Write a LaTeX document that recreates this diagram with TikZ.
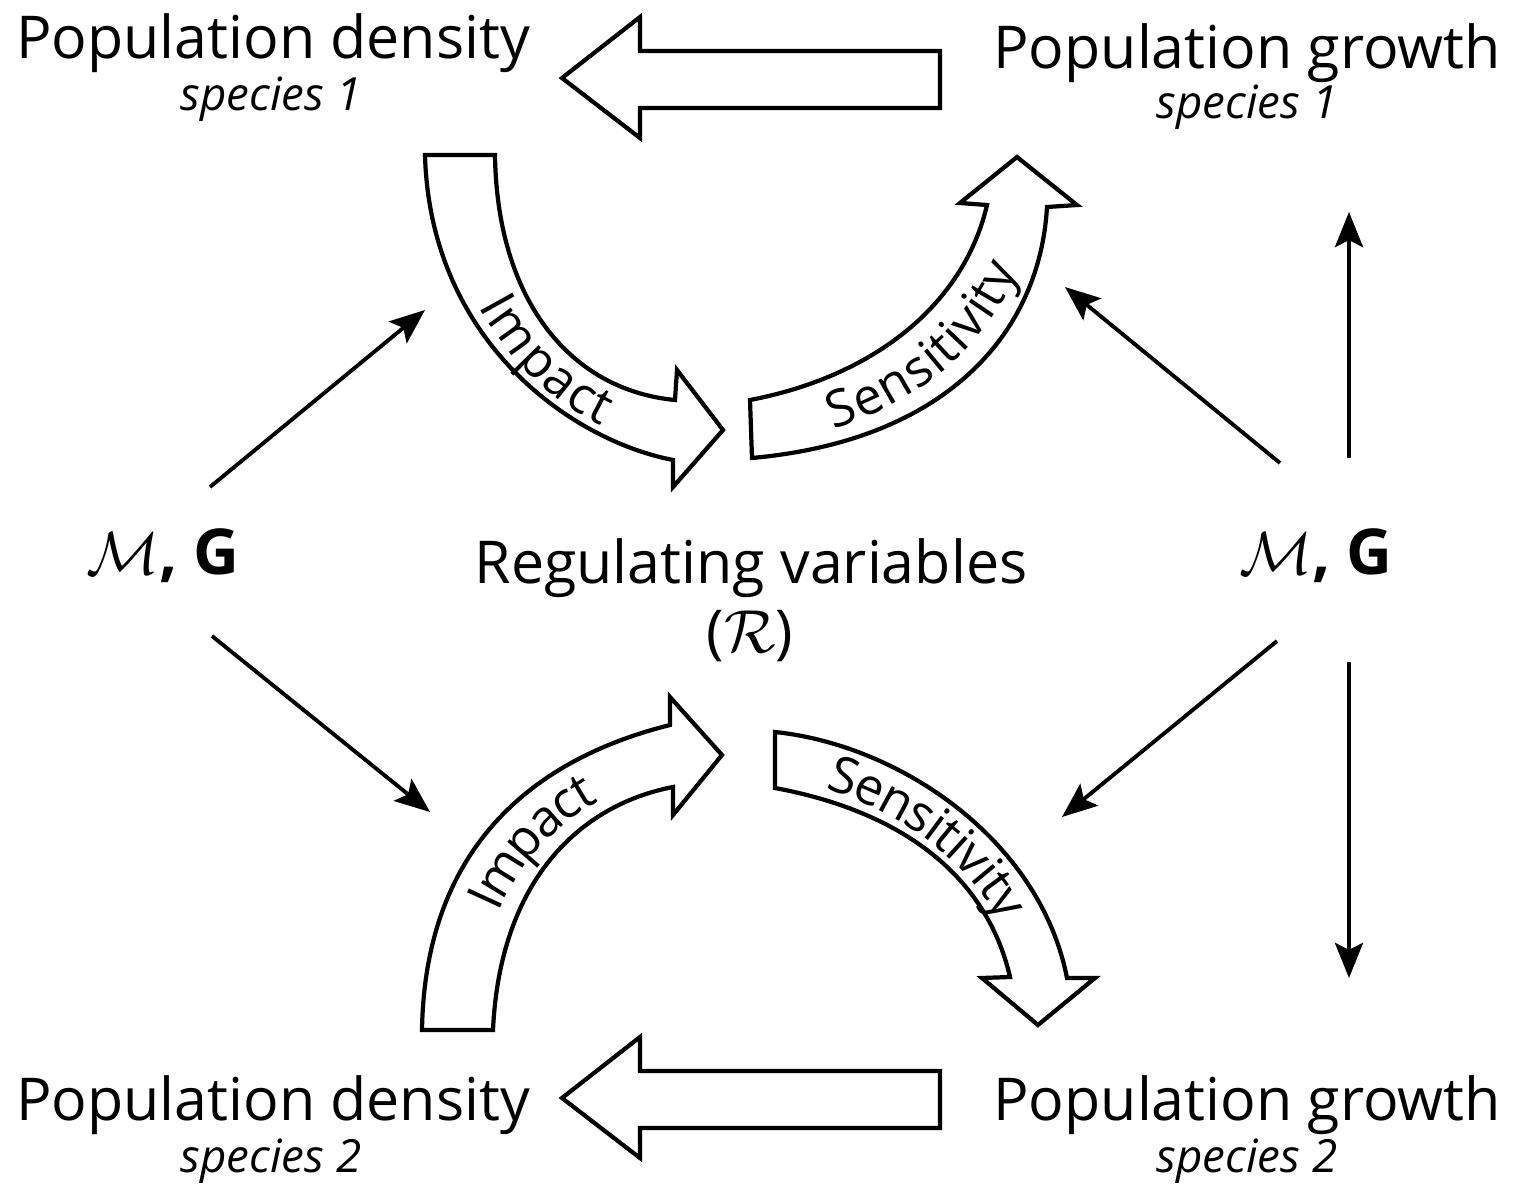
\documentclass[tikz,border=0pt]{standalone}
\usepackage{fontspec}
\setmainfont{Open Sans}
\usetikzlibrary{arrows.meta,decorations.text}
\newcommand\arcfont{\fontsize{14.5}{16}\selectfont}
\newcommand\mg{$\mathcal{M}$\textbf{, G}}

\begin{document}
\begin{tikzpicture}[x=0.01cm,y=-0.01cm,
        >={Stealth[length=10pt,width=8pt,inset=2pt]},
        blockarrow/.style={draw,line width=1.2pt,fill=white,line join=miter},
        thinarrow/.style={->,line width=1.1pt},
        title/.style={inner sep=0pt,anchor=base,font=\fontsize{16.8}{19}\selectfont},
        species/.style={inner sep=0pt,anchor=base,font=\fontsize{13}{14}\selectfont\itshape},
        mglabel/.style={inner sep=0pt,anchor=base,font=\fontsize{18}{20}\selectfont},
        arclabel/.style={decorate,decoration={text along path,text align=center,raise=-5pt,text={|\arcfont|#1}}}]
        \useasboundingbox (0,0) rectangle (1526,1184);
        % texts
        \node[title] (dens1) at (273,58) {Population density};
        \node[species] (sp1l) at (271,110) {species 1};
        \node[title] (grow1) at (1247,68) {Population growth};
        \node[species] (sp1r) at (1247,118) {species 1};
        \node[title] (dens2) at (273,1120) {Population density};
        \node[species] (sp2l) at (271,1172) {species 2};
        \node[title] (grow2) at (1247,1120) {Population growth};
        \node[species] (sp2r) at (1247,1172) {species 2};
        \node[title] (reg) at (751,583) {Regulating variables};
        \node[title] (regR) at (750,652) {($\mathcal{R}$)};
        \node[mglabel] (mgl) at (163,574) {\mg};
        \node[mglabel] (mgr) at (1316,574) {\mg};
        % straight block arrows
        \draw[blockarrow] (940,51) -- (940,108) -- (640,108) -- (640,138) -- (562,78) -- (640,17) -- (640,51) -- cycle;
        \draw[blockarrow] (940,1071) -- (940,1128) -- (640,1128) -- (640,1158) -- (562,1098) -- (640,1037) -- (640,1071) -- cycle;
        % curved block arrows
        \draw[blockarrow] (425,155) -- (495,155) .. controls (497,300) and (570,390) .. (675,400)
            -- (677,370) -- (723,430) -- (673,487) -- (673,460) .. controls (570,440) and (430,340) .. (425,155) -- cycle;
        \draw[blockarrow] (750,400) .. controls (880,375) and (965,300) .. (987,205)
            -- (960,203) -- (1017,157) -- (1077,205) -- (1047,207) .. controls (1040,330) and (950,440) .. (752,458) -- cycle;
        \draw[blockarrow] (422,1030) .. controls (425,850) and (530,760) .. (670,725)
            -- (670,697) -- (722,755) -- (673,815) -- (673,787) .. controls (580,805) and (500,880) .. (493,1030) -- cycle;
        \draw[blockarrow] (775,732) .. controls (900,745) and (1040,840) .. (1067,978)
            -- (1095,978) -- (1038,1025) -- (982,978) -- (1010,977) .. controls (990,890) and (920,815) .. (775,788) -- cycle;
        \path[arclabel=Impact] (460,155) .. controls (463,320) and (570,415) .. (674,430) -- (754,435);
        \path[arclabel=Sensitivity] (751,429) .. controls (915,408) and (1002,315) .. (1017,206) -- (1020,186);
        \path[arclabel=Impact] (457,1030) .. controls (462,865) and (555,782) .. (671,756) -- (711,749);
        \path[arclabel=Sensitivity] (765,759) -- (775,760) .. controls (910,780) and (1015,865) .. (1038,977);
        % thin arrows
        \coordinate (l1s) at (210,487);
        \coordinate (l1e) at (425,310);
        \coordinate (l2s) at (212,636);
        \coordinate (l2e) at (430,812);
        \coordinate (r1s) at (1280,463);
        \coordinate (r1e) at (1065,287);
        \coordinate (r2s) at (1349,458);
        \coordinate (r2e) at (1349,212);
        \coordinate (r3s) at (1277,641);
        \coordinate (r3e) at (1062,817);
        \coordinate (r4s) at (1349,662);
        \coordinate (r4e) at (1349,978);
        \draw[thinarrow] (l1s) -- (l1e);
        \draw[thinarrow] (l2s) -- (l2e);
        \draw[thinarrow] (r1s) -- (r1e);
        \draw[thinarrow] (r2s) -- (r2e);
        \draw[thinarrow] (r3s) -- (r3e);
        \draw[thinarrow] (r4s) -- (r4e);
    \end{tikzpicture}
\end{document}
